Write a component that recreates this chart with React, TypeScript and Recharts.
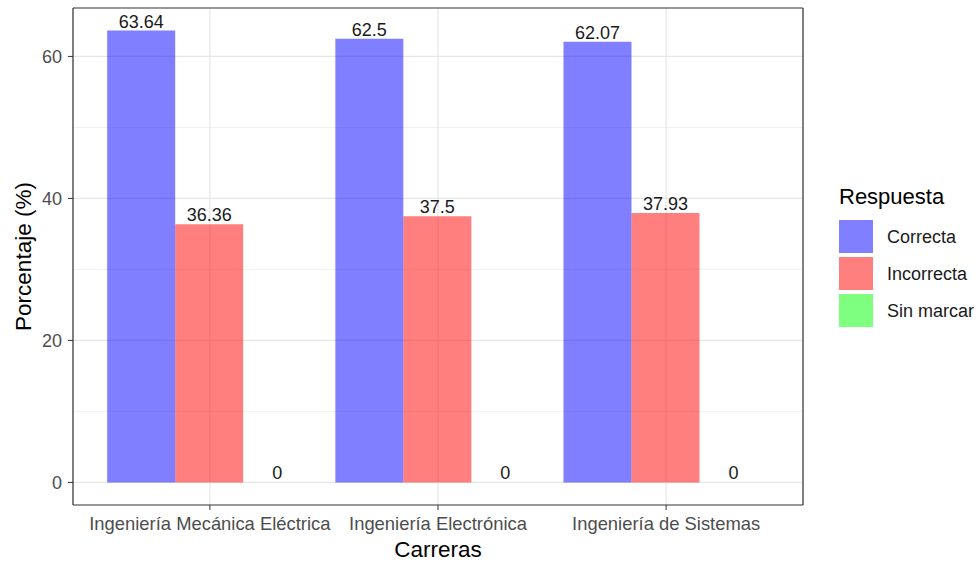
import React from 'react';
import { BarChart, Bar, XAxis, YAxis, CartesianGrid, LabelList, Legend } from 'recharts';

const categories = ['Ingeniería Mecánica Eléctrica', 'Ingeniería Electrónica', 'Ingeniería de Sistemas'];
const correcta = [63.64, 62.5, 62.07];
const incorrecta = [36.36, 37.5, 37.93];
const sinMarcar = [0, 0, 0];
const seriesNames = ['Correcta', 'Incorrecta', 'Sin marcar'];
const seriesColors = ['#0000FF', '#FF0000', '#00FF00'];
const yTicks = [0, 20, 40, 60];
const yMinorTicks = [10, 30, 50];
const legendTitle = 'Respuesta';
const xTitle = 'Carreras';
const yTitle = 'Porcentaje (%)';

const data = categories.map((c, i) => ({
  carrera: c,
  Correcta: correcta[i],
  Incorrecta: incorrecta[i],
  'Sin marcar': sinMarcar[i],
}));

const FONT = '"Liberation Sans", Arial, Helvetica, sans-serif';
const Y_DOMAIN: [number, number] = [-3.182, 66.822];

const LegendBox = () => (
  <svg width={150} height={160} style={{ display: 'block', fontFamily: FONT }}>
    <text x={9} y={24} fontSize={22} fill="#000">{legendTitle}</text>
    {seriesNames.map((n, i) => (
      <g key={n}>
        <rect x={9} y={40 + i * 37} width={34} height={33} fill={seriesColors[i]} fillOpacity={0.5} />
        <text x={57} y={40 + i * 37 + 16.5} dominantBaseline="central" fontSize={18} fill="#1a1a1a">{n}</text>
      </g>
    ))}
  </svg>
);

const ZeroAwareLabel = (p: any) => {
  const { x, y, width, value } = p;
  if (value === undefined || value === null) return null;
  return (
    <text x={x + width / 2} y={y - 3} textAnchor="middle" fontSize={18} fill="#1a1a1a">
      {value}
    </text>
  );
};

export default function App() {
  return (
    <div style={{ position: 'absolute', left: 0, top: 0, width: 980, height: 565, background: '#fff', fontFamily: FONT }}>
      <BarChart
        width={980}
        height={565}
        data={data}
        margin={{ top: 7, right: 176, bottom: 0, left: 0 }}
        barCategoryGap="5%"
        barGap={0}
      >
        <CartesianGrid horizontalValues={yMinorTicks} vertical={false} stroke="#EDEDED" strokeWidth={0.8} />
        <CartesianGrid horizontalValues={yTicks} stroke="#E6E6E6" strokeWidth={1.2} />
        <XAxis
          dataKey="carrera"
          type="category"
          padding={{ left: 22.8, right: 22.8 }}
          height={60}
          tickSize={5}
          tickMargin={7}
          tick={{ fontSize: 18.4, fill: '#4D4D4D' }}
          tickLine={{ stroke: '#333' }}
          axisLine={{ stroke: '#333', strokeWidth: 1.2 }}
          interval={0}
          label={{
            content: (p: any) => {
              const vb = p.viewBox || { x: 73, y: 505, width: 730 };
              return (
                <text x={vb.x + vb.width / 2} y={vb.y + 52} textAnchor="middle" fontSize={22.5} fill="#000">
                  {xTitle}
                </text>
              );
            },
          }}
        />
        <XAxis
          xAxisId="top"
          dataKey="carrera"
          orientation="top"
          height={1}
          tick={false}
          tickLine={false}
          axisLine={{ stroke: '#333', strokeWidth: 1.2 }}
          padding={{ left: 22.8, right: 22.8 }}
        />
        <YAxis
          type="number"
          domain={Y_DOMAIN}
          ticks={yTicks}
          allowDataOverflow
          width={73}
          tickSize={5}
          tickMargin={6}
          tick={{ fontSize: 18, fill: '#4D4D4D' }}
          tickLine={{ stroke: '#333' }}
          axisLine={{ stroke: '#333', strokeWidth: 1.2 }}
          label={{
            content: (p: any) => {
              const vb = p.viewBox || { x: 0, y: 8, width: 73, height: 497 };
              const cx = vb.x + 23;
              const cy = vb.y + vb.height / 2;
              return (
                <text x={cx} y={cy} transform={`rotate(-90 ${cx} ${cy})`} textAnchor="middle" dominantBaseline="central" fontSize={22.5} fill="#000">
                  {yTitle}
                </text>
              );
            },
          }}
        />
        <YAxis
          yAxisId="right"
          orientation="right"
          width={1}
          tick={false}
          tickLine={false}
          axisLine={{ stroke: '#333', strokeWidth: 1.2 }}
          domain={Y_DOMAIN}
          allowDataOverflow
        />
        {seriesNames.map((n, i) => (
          <Bar key={n} dataKey={n} fill={seriesColors[i]} fillOpacity={0.5} isAnimationActive={false} minPointSize={0.01}>
            <LabelList dataKey={n} content={ZeroAwareLabel} />
          </Bar>
        ))}
        <Legend
          layout="vertical"
          align="center"
          verticalAlign="middle"
          wrapperStyle={{ left: 830, top: 180, width: 150 }}
          content={() => <LegendBox />}
        />
      </BarChart>
    </div>
  );
}
